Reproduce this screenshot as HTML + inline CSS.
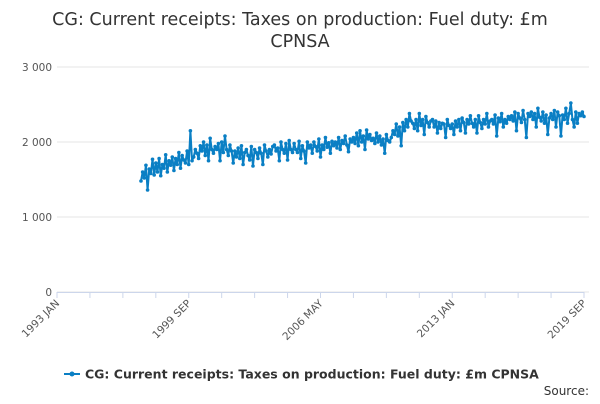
<!DOCTYPE html>
<html><head><meta charset="utf-8"><style>
body{margin:0;background:#fff;font-family:"DejaVu Sans","Liberation Sans",sans-serif}
svg text{font-family:"DejaVu Sans","Liberation Sans",sans-serif}
</style></head><body>
<svg id="c" width="600" height="400" xmlns="http://www.w3.org/2000/svg">
<text x="300" y="25" text-anchor="middle" font-size="17.5" fill="#333">CG: Current receipts: Taxes on production: Fuel duty: £m</text>
<text x="300" y="47" text-anchor="middle" font-size="17.5" fill="#333">CPNSA</text>
<g id="grid"></g><g id="xax"></g><g id="series"></g>
<g>
<line x1="64" y1="374" x2="80" y2="374" stroke="#0a7fc4" stroke-width="2"/>
<circle cx="72" cy="374" r="2.5" fill="#0a7fc4"/>
<text x="85" y="378.5" font-size="12.5" font-weight="bold" fill="#333">CG: Current receipts: Taxes on production: Fuel duty: £m CPNSA</text>
</g>
<text x="589" y="395" text-anchor="end" font-size="12" fill="#333">Source:</text>
</svg>
<script>
const yTicks=[0,1000,2000,3000];
const yTickLabels=["0","1 000","2 000","3 000"];
const xTickMonths=[0,80,160,240,320];
const xTickLabels=["1993 JAN","1999 SEP","2006 MAY","2013 JAN","2019 SEP"];
const startMonth=51; // months after 1993 JAN (1997 APR)
const values=[
1480,1600,1520,1690,1360,1640,1580,1770,1560,
1720,1600,1780,1550,1700,1650,1830,1600,1750,1690,1800,1620,
1780,1700,1860,1650,1820,1760,1720,1880,1700,2150,1750,1800,
1900,1850,1780,1950,1880,2000,1820,1960,1750,2050,1900,1850,
1940,1900,1980,1750,2000,1860,2080,1900,1820,1960,1880,1720,
1880,1800,1920,1780,1950,1700,1860,1900,1820,1760,1940,1680,
1900,1860,1780,1920,1850,1700,1960,1880,1800,1900,1840,1940,
1960,1880,1920,1750,2000,1900,1850,1980,1760,2020,1900,1860,
1980,1900,1860,2010,1780,1950,1880,1720,2000,1920,1960,1850,
2000,1940,1880,2040,1800,1960,1900,2060,1930,1990,1850,2010,
1950,2000,1920,2060,1900,2020,1980,2080,1960,1870,2040,2000,
2060,1980,2120,1950,2150,2000,2080,1900,2160,2040,2100,2020,
2050,1980,2120,2000,2080,1960,2040,1850,2100,2020,2000,2060,
2150,2100,2240,2080,2200,1950,2260,2150,2300,2200,2380,2280,
2250,2180,2300,2150,2380,2220,2300,2100,2340,2260,2200,2280,
2300,2200,2280,2120,2260,2180,2250,2240,2060,2300,2220,2180,
2240,2100,2280,2200,2300,2150,2320,2260,2120,2300,2240,2350,
2250,2200,2300,2120,2350,2260,2180,2300,2240,2380,2200,2280,
2300,2240,2360,2080,2320,2270,2380,2200,2300,2250,2340,2300,
2350,2280,2400,2150,2380,2320,2260,2420,2300,2060,2380,2340,
2400,2300,2380,2200,2450,2330,2280,2400,2250,2360,2100,2320,
2380,2300,2420,2200,2400,2350,2080,2360,2300,2450,2250,2380,
2520,2300,2200,2400,2250,2380,2350,2400,2340];
const NS="http://www.w3.org/2000/svg";
const X0=57,X1=584,Y0=292,Y1=67;
const xs=m=>X0+(X1-X0)*m/320;
const ys=v=>Y0-(Y0-Y1)*v/3000;
function mk(t,a,p){const e=document.createElementNS(NS,t);for(const k in a)e.setAttribute(k,a[k]);p.appendChild(e);return e;}
const grid=document.getElementById('grid');
yTicks.forEach((v,i)=>{
 const l=mk('line',{x1:X0,x2:X1+5,y1:ys(v),y2:ys(v),stroke:'#e6e6e6'},grid);
 
 
 const t=mk('text',{x:52,y:ys(v)+4,'text-anchor':'end','font-size':10.5,fill:'#555'},grid);
 t.textContent=yTickLabels[i];
 
 
});
const xax=document.getElementById('xax');
const ax=mk('line',{x1:X0,x2:X1,y1:Y0+0.5,y2:Y0+0.5,stroke:'#ccd6eb'},xax);


for(let m=0;m<=320;m+=20){mk('line',{x1:xs(m),x2:xs(m),y1:Y0,y2:Y0+6,stroke:'#ccd6eb'},xax);}
xTickMonths.forEach((m,i)=>{
 const x=xs(m),y=Y0+12;
 const t=mk('text',{x:x+3,y:y,'text-anchor':'end','font-size':10.5,fill:'#555',transform:`rotate(-45 ${x+3} ${y})`},xax);
 t.textContent=xTickLabels[i];
 
 
});
const s=document.getElementById('series');
const pts=values.map((v,i)=>[xs(startMonth+i),ys(v)]);
const pl=mk('polyline',{points:pts.map(p=>p.join(',')).join(' '),fill:'none',stroke:'#0a7fc4','stroke-width':2,'stroke-linejoin':'round'},s);


pts.forEach(p=>{
 const c=mk('circle',{cx:p[0],cy:p[1],r:1.8,fill:'#0a7fc4'},s);
 
 
});
</script>
</body></html>
